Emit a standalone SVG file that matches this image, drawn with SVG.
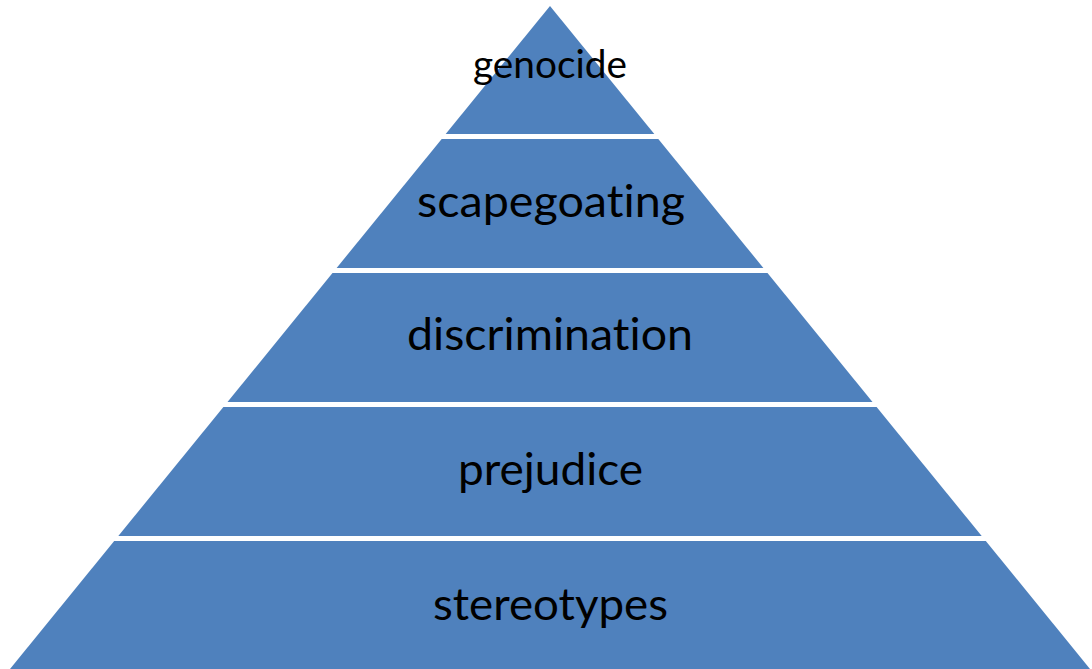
<svg xmlns="http://www.w3.org/2000/svg" width="1092" height="669" viewBox="0 0 1092 669">
  <style>
    .band { fill: #4F81BD; }
    .lbl { font-family: Lato, "Open Sans", "Liberation Sans", sans-serif; fill: #000000; text-anchor: middle; font-size: 45px; font-variant-ligatures: none; font-feature-settings: "liga" 0, "clig" 0; }
    .small { font-size: 38px; }
  </style>
  <rect width="1092" height="669" fill="#FFFFFF"/>
  <g id="genocide">
    <polygon class="band" points="550,6 654.3,134 445.7,134"/>
    <text class="lbl small" x="550" y="78" textLength="154" lengthAdjust="spacingAndGlyphs">genocide</text>
  </g>
  <g id="scapegoating">
    <polygon class="band" points="441.7,139 658.3,139 763.4,268 336.6,268"/>
    <text class="lbl" x="551" y="217" textLength="268" lengthAdjust="spacingAndGlyphs">scapegoating</text>
  </g>
  <g id="discrimination">
    <polygon class="band" points="332.5,273 767.5,273 872.5,402 227.5,402"/>
    <text class="lbl" x="550" y="350" textLength="286" lengthAdjust="spacingAndGlyphs">discrimination</text>
  </g>
  <g id="prejudice">
    <polygon class="band" points="223.4,407 876.6,407 981.7,536 118.3,536"/>
    <text class="lbl" x="550.5" y="485" textLength="185" lengthAdjust="spacingAndGlyphs">prejudice</text>
  </g>
  <g id="stereotypes">
    <polygon class="band" points="114.2,541 985.8,541 1090,669 10,669"/>
    <text class="lbl" x="550.5" y="620" textLength="235" lengthAdjust="spacingAndGlyphs">stereotypes</text>
  </g>
  <g id="connectors"></g>
</svg>
